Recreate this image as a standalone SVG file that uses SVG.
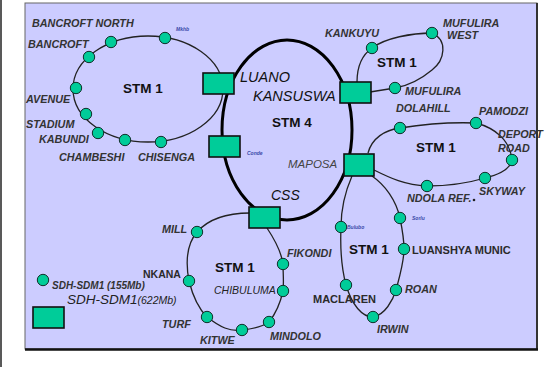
<svg xmlns="http://www.w3.org/2000/svg" width="553" height="367" viewBox="0 0 553 367">
<defs>
<style>
.lbl{font-family:"Liberation Sans",Arial,sans-serif;font-style:italic;font-weight:bold;font-size:10.8px;fill:#333}
.lblr{font-family:"Liberation Sans",Arial,sans-serif;font-style:italic;font-size:10.8px;fill:#222}
.lblb{font-family:"Liberation Sans",Arial,sans-serif;font-weight:bold;font-size:11px;fill:#2a2a2a}
.stm{font-family:"Liberation Sans",Arial,sans-serif;font-weight:bold;font-size:13.5px;fill:#111}
.big{font-family:"Liberation Sans",Arial,sans-serif;font-style:italic;font-size:14.5px;fill:#111}
.tiny{font-family:"Liberation Sans",Arial,sans-serif;font-style:italic;font-weight:bold;font-size:5px;fill:#3a4aa8}
.nd{fill:#00cc99;stroke:#10302a;stroke-width:1}
.sq{fill:#00cc99;stroke:#111;stroke-width:1.6}
.thin{fill:none;stroke:#222;stroke-width:1.3}
.thick{fill:none;stroke:#000;stroke-width:3}
</style>
</defs>
<rect width="553" height="367" fill="#fff"/>
<line x1="1" y1="0" x2="1" y2="367" stroke="#222" stroke-width="1.5"/>
<rect x="25" y="3" width="512" height="346" fill="#ccccff" stroke="#666" stroke-width="1"/>
<line x1="537" y1="3" x2="537" y2="350" stroke="#333" stroke-width="2"/>
<line x1="25" y1="349.5" x2="538" y2="349.5" stroke="#111" stroke-width="2.5"/>

<g id="connectors">
<ellipse class="thin" cx="148" cy="89" rx="75" ry="53"/>
<ellipse class="thick" cx="287" cy="130" rx="65" ry="90"/>
<path class="thin" d="M357,82 C357,65 362,55 372,48 C385,38 412,33 432,33 C448,40 445,60 432,70 C420,80 407,86 395,88 L370,92"/>
<path class="thin" d="M368,153 C372,138 385,130 400,128 C425,124 450,122 476,123 C495,128 510,140 512,160 C510,170 498,175 485,178 C465,184 445,186 427,186 C405,185 390,178 374,170"/>
<path class="thin" d="M352,176 C345,192 341,210 341,227 C340,250 342,270 346,285 C352,305 362,317 373,317 C385,315 393,300 396,290 C400,275 404,262 404,249 C404,238 402,228 400,218 C396,200 385,185 372,176"/>
<path class="thin" d="M250,213 C235,213 212,215 197,232 C186,245 186,265 189,281 C193,297 200,310 207,317 C220,327 230,332 242,330 C252,329 262,327 269,322 C277,312 281,300 283,291 C284,282 283,273 283,264 C281,250 273,237 267,228"/>
</g>

<g id="sq-luano"><rect class="sq" x="203" y="73" width="31" height="21"/><text class="big" x="240" y="82">LUANO</text></g>
<g id="sq-kansuswa"><rect class="sq" x="340" y="82" width="31" height="21"/><text class="big" x="253" y="101">KANSUSWA</text></g>
<g id="sq-conde"><rect class="sq" x="209" y="136" width="31" height="21"/><text class="tiny" x="247" y="155">Conde</text></g>
<g id="sq-maposa"><rect class="sq" x="344" y="154" width="30" height="22"/><text class="lblr" x="288" y="168" style="font-size:11.5px;fill:#444">MAPOSA</text></g>
<g id="sq-css"><rect class="sq" x="249" y="207" width="31" height="21"/><text class="big" x="271" y="200" style="font-size:14px">CSS</text></g>

<g id="ring-labels">
<text class="stm" x="123" y="93">STM 1</text>
<text class="stm" x="272" y="127">STM 4</text>
<text class="stm" x="377" y="67">STM 1</text>
<text class="stm" x="416" y="152">STM 1</text>
<text class="stm" x="215" y="272">STM 1</text>
<text class="stm" x="349" y="254">STM 1</text>
</g>

<g id="n-bancroft-north"><circle class="nd" cx="111" cy="42" r="5.7"/><text class="lbl" x="32" y="27">BANCROFT NORTH</text></g>
<g id="n-mkhb"><circle class="nd" cx="165" cy="38" r="5.7"/><text class="tiny" x="176" y="31">Mkhb</text></g>
<g id="n-bancroft"><circle class="nd" cx="89" cy="57" r="5.7"/><text class="lbl" x="28" y="48">BANCROFT</text></g>
<g id="n-avenue"><circle class="nd" cx="76" cy="88" r="5.7"/><text class="lbl" x="26" y="103">AVENUE</text></g>
<g id="n-stadium"><circle class="nd" cx="86" cy="114" r="5.7"/><text class="lbl" x="26" y="128">STADIUM</text></g>
<g id="n-kabundi"><circle class="nd" cx="98" cy="133" r="5.7"/><text class="lbl" x="39" y="143">KABUNDI</text></g>
<g id="n-chambeshi"><circle class="nd" cx="125" cy="140" r="5.7"/><text class="lbl" x="59" y="161">CHAMBESHI</text></g>
<g id="n-chisenga"><circle class="nd" cx="161" cy="142" r="5.7"/><text class="lbl" x="138" y="161">CHISENGA</text></g>

<g id="n-kankuyu"><circle class="nd" cx="372" cy="48" r="5.7"/><text class="lbl" x="325" y="37">KANKUYU</text></g>
<g id="n-mufulira-west"><circle class="nd" cx="432" cy="33" r="5.7"/><text class="lbl" x="443" y="26.5">MUFULIRA</text><text class="lbl" x="447" y="38.5">WEST</text></g>
<g id="n-mufulira"><circle class="nd" cx="395" cy="88" r="5.7"/><text class="lbl" x="405" y="95">MUFULIRA</text></g>

<g id="n-dolahill"><circle class="nd" cx="400" cy="128" r="5.7"/><text class="lbl" x="396" y="112">DOLAHILL</text></g>
<g id="n-pamodzi"><circle class="nd" cx="476" cy="123" r="5.7"/><text class="lbl" x="479" y="115">PAMODZI</text></g>
<g id="n-deport-road"><circle class="nd" cx="512" cy="160" r="5.7"/><text class="lbl" x="498" y="138">DEPORT</text><text class="lbl" x="498" y="152">ROAD</text></g>
<g id="n-skyway"><circle class="nd" cx="485" cy="178" r="5.7"/><text class="lbl" x="479" y="195">SKYWAY</text></g>
<g id="n-ndola-ref"><circle class="nd" cx="427" cy="186" r="5.7"/><text class="lbl" x="407" y="202">NDOLA REF.</text><circle cx="474" cy="200" r="1.3" fill="#222"/></g>

<g id="n-bulubo"><circle class="nd" cx="341" cy="227" r="5.7"/><text class="tiny" x="347" y="229">Bulubo</text></g>
<g id="n-sorlu"><circle class="nd" cx="400" cy="218" r="5.7"/><text class="tiny" x="412" y="220">Sorlu</text></g>
<g id="n-luanshya"><circle class="nd" cx="404" cy="249" r="5.7"/><text class="lblb" x="412" y="254">LUANSHYA MUNIC</text></g>
<g id="n-roan"><circle class="nd" cx="396" cy="290" r="5.7"/><text class="lbl" x="405" y="293">ROAN</text></g>
<g id="n-irwin"><circle class="nd" cx="373" cy="317" r="5.7"/><text class="lbl" x="377" y="333">IRWIN</text></g>
<g id="n-maclaren"><circle class="nd" cx="346" cy="285" r="5.7"/><text class="lblb" x="313" y="303">MACLAREN</text></g>

<g id="n-mill"><circle class="nd" cx="197" cy="232" r="5.7"/><text class="lbl" x="162" y="233">MILL</text></g>
<g id="n-nkana"><circle class="nd" cx="189" cy="281" r="5.7"/><text class="lblb" x="143" y="278" style="font-size:10.5px">NKANA</text></g>
<g id="n-turf"><circle class="nd" cx="207" cy="317" r="5.7"/><text class="lbl" x="162" y="328">TURF</text></g>
<g id="n-kitwe"><circle class="nd" cx="242" cy="330" r="5.7"/><text class="lbl" x="200" y="344">KITWE</text></g>
<g id="n-mindolo"><circle class="nd" cx="269" cy="322" r="5.7"/><text class="lbl" x="270" y="340">MINDOLO</text></g>
<g id="n-chibuluma"><circle class="nd" cx="283" cy="291" r="5.7"/><text class="lblr" x="214" y="294" style="font-size:10.5px">CHIBULUMA</text></g>
<g id="n-fikondi"><circle class="nd" cx="283" cy="264" r="5.7"/><text class="lbl" x="287" y="257">FIKONDI</text></g>

<g id="legend">
<circle class="nd" cx="43" cy="280" r="5.7"/>
<text class="lbl" x="52" y="289" style="font-size:10px">SDH-SDM1 (155Mb)</text>
<rect class="sq" x="33" y="307" width="31" height="21"/>
<text class="lblr" x="67" y="304" style="font-size:13.5px">SDH-SDM1<tspan style="font-size:10.5px">(622Mb)</tspan></text>
</g>
</svg>
